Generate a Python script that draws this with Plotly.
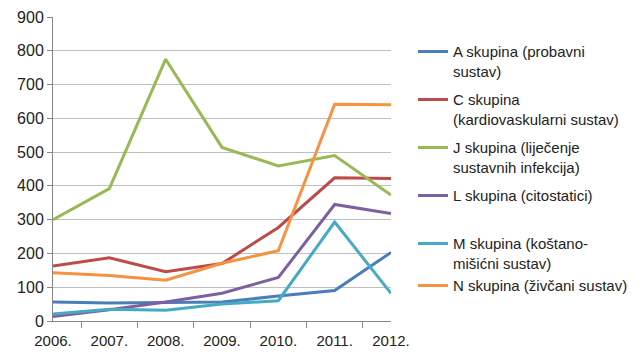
import plotly.graph_objects as go

years = ["2006.", "2007.", "2008.", "2009.", "2010.", "2011.", "2012."]
names = [
    "A skupina (probavni<br>sustav)",
    "C skupina<br>(kardiovaskularni sustav)",
    "J skupina (liječenje<br>sustavnih infekcija)",
    "L skupina (citostatici)<br> ",
    "M skupina (koštano-<br>mišićni sustav)",
    "N skupina (živčani sustav)",
]
groups = ["a", "c", "j", "l", "mn", "mn"]
A_vals = [56, 53, 55, 56, 74, 90, 203]
C_vals = [163, 187, 146, 170, 277, 424, 422]
J_vals = [300, 392, 775, 514, 459, 490, 373]
L_vals = [13, 33, 56, 82, 129, 345, 318]
M_vals = [21, 35, 32, 50, 60, 293, 82]
N_vals = [143, 135, 121, 171, 208, 642, 640]
series = [A_vals, C_vals, J_vals, L_vals, M_vals, N_vals]
colors = ["#4A7EBB", "#BE4B48", "#98B954", "#7D60A0", "#46AAC5", "#F69240"]

fig = go.Figure()
for n, v, c, g in zip(names, series, colors, groups):
    fig.add_trace(go.Scatter(x=years, y=v, name=n, mode="lines", legendgroup=g,
                             line=dict(color=c, width=3)))

fig.update_layout(
    width=639, height=362,
    margin=dict(l=45, r=256, t=9, b=49, autoexpand=False),
    paper_bgcolor="white", plot_bgcolor="white",
    font=dict(family="Liberation Sans", size=15, color="#222"),
    legend=dict(x=1.065, y=0.94, xanchor="left", yanchor="top",
                valign="top", font=dict(size=15, color="#222"),
                tracegroupgap=6, itemwidth=30, groupclick="toggleitem"),
    showlegend=True,
)
fig.update_xaxes(type="category", showline=True, linecolor="#868686",
                 ticks="outside", tickson="boundaries", ticklen=6,
                 tickcolor="#868686", showgrid=False, automargin=False,
                 ticklabelstandoff=6, tickfont=dict(size=15))
fig.update_yaxes(range=[0, 900], dtick=100, showline=True, linecolor="#868686",
                 ticks="outside", ticklen=5, tickcolor="#868686",
                 gridcolor="#BFBFBF", gridwidth=1, zeroline=False,
                 automargin=False, tickfont=dict(size=16))

fig.write_html("out.html")
